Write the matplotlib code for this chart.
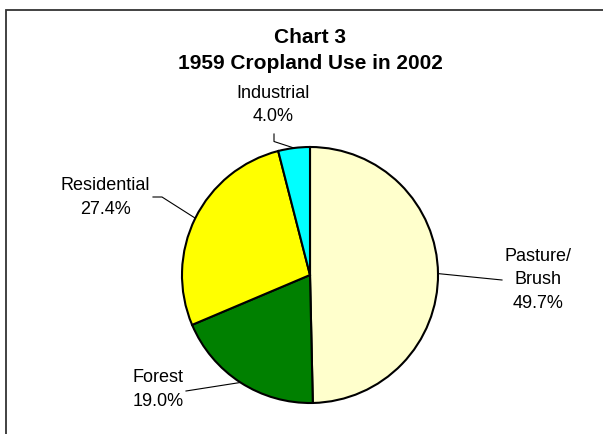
import numpy as np
import matplotlib.pyplot as plt

plt.rcParams['font.family'] = ['Liberation Sans', 'DejaVu Sans']

# Datos del grafico
categorias = ['Pasture/\nBrush', 'Forest', 'Residential', 'Industrial']
porcentajes = [49.7, 19.0, 27.4, 4.0]
colores = ['#FFFFCC', '#008000', '#FFFF00', '#00FFFF']

W, H = 603, 434
fig = plt.figure(figsize=(W / 100, H / 100), dpi=100)
ax = fig.add_axes([0, 0, 1, 1])

# coordenadas en pixeles (y hacia arriba)
cx, cy, r = 310, H - 275, 128

ax.pie(porcentajes, colors=colores, startangle=90, counterclock=False,
       center=(cx, cy), radius=r, frame=True,
       wedgeprops=dict(edgecolor='black', linewidth=1.5))

# marco (recortado a la derecha y abajo)
ax.plot([5.5, 5.5, W + 5], [-5, H - 10, H - 10], color='#333333', lw=1.3,
        solid_joinstyle='miter')

# titulo
ax.text(cx, H - 50.5, 'Chart 3\n1959 Cropland Use in 2002', ha='center',
        va='center', fontsize=15, fontweight='bold', linespacing=1.45)

# posiciones de etiquetas (texto y codo de la linea guia)
textos_pos = [(538, 280), (158, 389.5), (105.5, 197.5), (273, 105)]
codos = [[(502, 280)], [(186, 391)], [(162, 197), (153, 197)],
         [(274, 141.5), (274, 134)]]

inicio = 90.0
for cat, val, (tx, ty), codo in zip(categorias, porcentajes, textos_pos, codos):
    barrido = val / sum(porcentajes) * 360
    medio = np.deg2rad(inicio - barrido / 2)
    inicio -= barrido
    px, py = cx + r * np.cos(medio), cy + r * np.sin(medio)
    xs = [px] + [c[0] for c in codo]
    ys = [py] + [H - c[1] for c in codo]
    ax.plot(xs, ys, color='black', lw=0.8)
    ax.text(tx, H - ty, f'{cat}\n{val:.1f}%', ha='center', va='center',
            fontsize=13, linespacing=1.5)

ax.set_xlim(0, W)
ax.set_ylim(0, H)
ax.set_aspect('equal')
ax.axis('off')

plt.savefig('out.png', dpi=100)
